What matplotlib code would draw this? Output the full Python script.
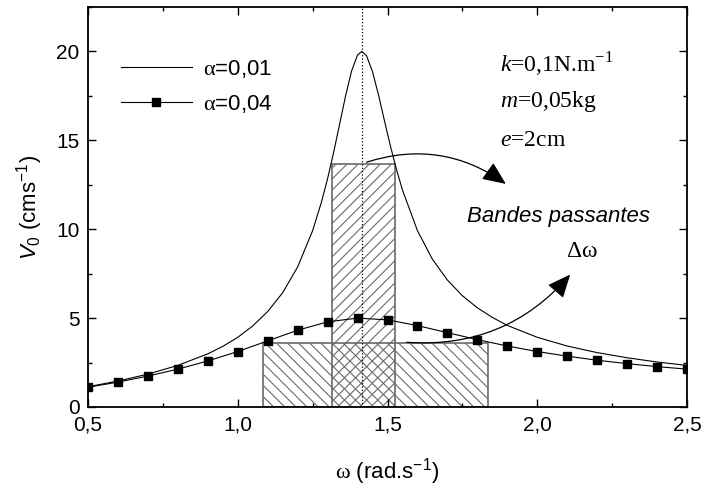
import matplotlib
matplotlib.use("Agg")
import matplotlib.pyplot as plt
from matplotlib.ticker import MultipleLocator, FuncFormatter

plt.rcParams['font.family'] = ['Liberation Sans', 'DejaVu Sans']
plt.rcParams['mathtext.fontset'] = 'custom'
plt.rcParams['mathtext.rm'] = 'Liberation Sans'
plt.rcParams['mathtext.it'] = 'Liberation Sans:italic'
plt.rcParams['mathtext.bf'] = 'Liberation Sans:bold'
plt.rcParams['mathtext.tt'] = 'Liberation Serif'
plt.rcParams['mathtext.cal'] = 'Liberation Serif:italic'
plt.rcParams['hatch.linewidth'] = 0.8

# courbe alpha = 0,01
w_fine = [0.50, 0.60, 0.70, 0.80, 0.90, 0.95, 1.00, 1.05, 1.10, 1.15, 1.20, 1.25,
          1.28, 1.30, 1.32, 1.34, 1.36, 1.38, 1.40, 1.414, 1.43, 1.45, 1.47, 1.49,
          1.51, 1.53, 1.55, 1.60, 1.65, 1.70, 1.75, 1.80, 1.85, 1.90, 2.00, 2.10,
          2.20, 2.30, 2.40, 2.50]
v_a001 = [1.14, 1.46, 1.85, 2.34, 2.99, 3.41, 3.92, 4.56, 5.37, 6.43, 7.88, 9.92,
          11.56, 12.85, 14.32, 15.90, 17.50, 18.90, 19.80, 20.00, 19.76, 18.86, 17.55, 16.09,
          14.66, 13.36, 12.20, 9.92, 8.31, 7.14, 6.26, 5.58, 5.04, 4.59, 3.92, 3.43,
          3.06, 2.77, 2.53, 2.34]

# courbe alpha = 0,04 (points)
w_pts = [0.5, 0.6, 0.7, 0.8, 0.9, 1.0, 1.1, 1.2, 1.3, 1.4, 1.5,
         1.6, 1.7, 1.8, 1.9, 2.0, 2.1, 2.2, 2.3, 2.4, 2.5]
v_a004 = [1.11, 1.40, 1.74, 2.13, 2.59, 3.12, 3.72, 4.32, 4.79, 5.00, 4.90,
          4.58, 4.18, 3.79, 3.43, 3.12, 2.86, 2.63, 2.44, 2.27, 2.13]

# bandes passantes : [omega_min, omega_max, hauteur]
band_001 = [1.314, 1.526, 13.67]
band_004 = [1.085, 1.837, 3.60]
omega_0 = 1.414

fig = plt.figure(figsize=(7.02, 4.9), dpi=100)
ax = fig.add_axes([0.1254, 0.1694, 0.8532, 0.8163])

grey = '#6a6a6a'
ax.bar(band_001[0], band_001[2], width=band_001[1] - band_001[0], align='edge',
       fill=False, hatch='///', edgecolor=grey, linewidth=1.2, zorder=1)
ax.bar(band_004[0], band_004[2], width=band_004[1] - band_004[0], align='edge',
       fill=False, hatch='\\\\\\', edgecolor=grey, linewidth=1.2, zorder=1)

ax.axvline(omega_0, color='black', linestyle=':', linewidth=0.9, zorder=2)

ax.plot(w_fine, v_a001, color='black', linewidth=0.8, zorder=3,
        label=r'$\mathtt{\alpha}$=0,01')
ax.plot(w_pts, v_a004, color='black', linewidth=0.8, marker='s', markersize=6,
        zorder=4, label=r'$\mathtt{\alpha}$=0,04')

ax.set_xlim(0.5, 2.5)
ax.set_ylim(0, 22.5)
ax.xaxis.set_major_locator(MultipleLocator(0.5))
ax.xaxis.set_minor_locator(MultipleLocator(0.25))
ax.yaxis.set_major_locator(MultipleLocator(5))
ax.yaxis.set_minor_locator(MultipleLocator(2.5))
ax.xaxis.set_major_formatter(FuncFormatter(lambda v, p: f'{v:.1f}'.replace('.', ',')))
ax.yaxis.set_major_formatter(FuncFormatter(lambda v, p: f'{v:.0f}'))
ax.tick_params(which='both', direction='in', top=True, right=True, width=1.0)
ax.tick_params(which='major', length=6, labelsize=15, pad=6)
ax.tick_params(which='minor', length=3)
for s in ax.spines.values():
    s.set_linewidth(1.3)

ax.set_xlabel(r'$\mathtt{\omega}$ (rad.s$^{-1}$)', fontsize=16, labelpad=16)
ax.set_ylabel(r'$V_0$ (cms$^{-1}$)', fontsize=16, labelpad=8)

ax.legend(loc='upper left', bbox_to_anchor=(0.04, 0.895), frameon=False, fontsize=16,
          handlelength=3.2, handletextpad=0.5, labelspacing=0.6, borderaxespad=0)

serif = dict(fontsize=17, fontfamily='Liberation Serif', va='center', ha='left')
ax.text(1.877, 19.3, r'$\mathcal{k}$=0,1N.m$^{\mathtt{-1}}$', **serif)
ax.text(1.877, 17.2, r'$\mathcal{m}$=0,05kg', **serif)
ax.text(1.877, 15.0, r'$\mathcal{e}$=2cm', **serif)
ax.text(2.07, 10.7, 'Bandes passantes', fontsize=16, style='italic',
        va='center', ha='center')
ax.text(2.15, 8.75, r'$\mathtt{\Delta\omega}$', fontsize=17, va='center', ha='center')

arrow = dict(arrowstyle='-|>,head_length=0.8,head_width=0.35', color='black',
             linewidth=0.9, mutation_scale=18, shrinkA=0, shrinkB=0)
ax.annotate('', xy=(1.895, 12.55), xytext=(1.43, 13.77),
            arrowprops=dict(arrow, connectionstyle='arc3,rad=-0.25'), zorder=5)
ax.annotate('', xy=(2.11, 7.45), xytext=(1.564, 3.64),
            arrowprops=dict(arrow, connectionstyle='arc3,rad=0.25'), zorder=5)

fig.savefig('out.png', dpi=100)
